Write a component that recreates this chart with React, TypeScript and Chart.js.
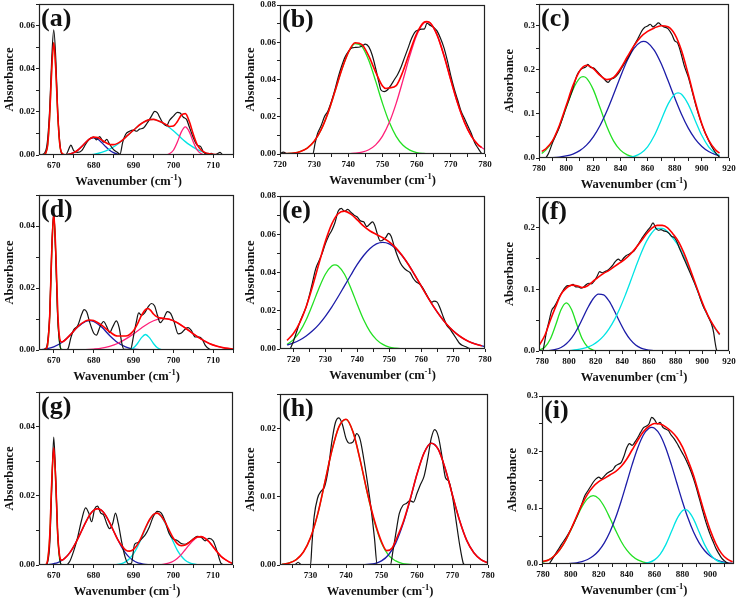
import React, { useEffect, useRef } from "react";
import { Chart, registerables } from "chart.js";
Chart.register(...registerables);

type Pt = [number, number];

// ---------------- panel (a) ----------------
const A_BLACK: Pt[] = [[667,0],[668,0.002],[668.5,0.008],[669,0.022],[669.5,0.045],[670,0.058],[670.5,0.045],[671,0.02],[671.5,0.006],[672,0.0005],[673,0],[673.6,0.002],[674.3,0.0046],[675,0.002],[676,0.0012],[677,0.002],[678,0.005],[679,0.0075],[680,0.0083],[680.7,0.007],[681.5,0.0085],[682.5,0.006],[683.3,0.0072],[684,0.005],[685,0.0025],[686,0.0012],[686.6,0.0003],[687.3,0.006],[688,0.0095],[689,0.011],[690,0.0115],[690.8,0.011],[691.5,0.012],[692.5,0.0125],[693.5,0.015],[694.5,0.018],[695.3,0.0202],[696,0.0195],[696.7,0.017],[697.5,0.0145],[698.3,0.0135],[699,0.016],[700,0.018],[701,0.0198],[701.7,0.0195],[702.5,0.0175],[703.3,0.0165],[704,0.013],[705,0.008],[706,0.0045],[706.8,0.004],[707.5,0.0015],[708.5,0.0004],[709.5,0.0008],[710.2,0],[711,0.0006],[711.7,0.0012],[712.3,0]];
const A_RED: Pt[] = [[666.3,0],[667.5,0.0001],[668,0.001],[668.5,0.005],[669,0.019],[669.5,0.04],[670,0.052],[670.5,0.04],[671,0.019],[671.5,0.0052],[672,0.001],[673,0.0001],[674,0.0004],[675,0.0011],[676,0.0022],[677,0.0039],[678,0.0058],[679,0.0075],[680,0.0083],[681,0.0081],[682,0.007],[683,0.0058],[684,0.0049],[685,0.0048],[686,0.0054],[687,0.0066],[688,0.0082],[690,0.0115],[692,0.0146],[694,0.0164],[695,0.0165],[696,0.016],[698,0.0143],[699,0.0132],[700,0.0134],[701,0.0155],[702,0.0185],[703,0.0192],[704,0.0155],[705,0.0096],[706,0.0047],[707,0.0022],[708,0.0011],[709,0.0006],[710,0.0003],[712,0],[715.2,0]];
const A_GREEN: Pt[] = [[666.3,0],[667.5,0],[668,0.0009],[668.5,0.005],[669,0.0187],[669.5,0.0403],[670,0.052],[670.5,0.0403],[671,0.0187],[671.5,0.005],[672,0.0009],[673,0],[674,0]];
const A_BLUE: Pt[] = [[666.3,0],[672,0],[673,0.0001],[674,0.0004],[675,0.0011],[676,0.0022],[677,0.0039],[678,0.0058],[679,0.0074],[680,0.008],[681,0.0074],[682,0.0058],[683,0.0039],[684,0.0022],[685,0.0011],[686,0.0004],[687,0.0001],[688,0],[715.2,0]];
const A_CYAN: Pt[] = [[678,0],[680,0.0003],[682,0.0012],[684,0.0027],[686,0.005],[688,0.0082],[690,0.0115],[692,0.0146],[694,0.0164],[695,0.0165],[696,0.016],[698,0.014],[700,0.0112],[702,0.0078],[703,0.0062],[704,0.0048],[706,0.0025],[708,0.001],[710,0.0003],[712,0]];
const A_PINK: Pt[] = [[695,0],[698,0.0001],[699,0.0006],[700,0.0022],[701,0.006],[702,0.0107],[703,0.013],[704,0.0107],[705,0.006],[706,0.0022],[707,0.0006],[708,0.0001],[710,0]];

// ---------------- panel (b) ----------------
const B_BLACK: Pt[] = [[720,0.0002],[721,0.001],[722,0.0002],[723,0],[729.6,0],[730.3,0.006],[731,0.011],[732,0.015],[733,0.02],[734,0.023],[735,0.028],[736,0.034],[737,0.041],[738,0.047],[739,0.052],[740,0.055],[741,0.057],[742,0.0572],[743,0.0573],[744,0.058],[745,0.059],[746,0.0575],[747,0.053],[748,0.046],[749,0.038],[749.5,0.0345],[750.5,0.0335],[751.5,0.0345],[752.5,0.037],[753.5,0.04],[754.5,0.043],[755.5,0.047],[756.5,0.052],[757.5,0.057],[758.5,0.062],[759.5,0.0655],[760.5,0.0665],[761.5,0.067],[762.3,0.0672],[763,0.0702],[764,0.069],[765,0.068],[766,0.066],[767,0.062],[768,0.057],[769,0.05],[770,0.042],[771,0.035],[772,0.029],[773,0.023],[774,0.019],[775,0.015],[776,0.011],[777,0.006],[778,0.003],[779,0.0003]];
const B_RED: Pt[] = [[720,0.0001],[722,0.0002],[724,0.0005],[726,0.0014],[728,0.0032],[730,0.0068],[732,0.0129],[734,0.0218],[736,0.0331],[738,0.0449],[740,0.0546],[742,0.0597],[744,0.0587],[746,0.0525],[748,0.044],[750,0.0365],[751,0.0352],[752,0.0355],[754,0.0367],[756,0.0444],[758,0.0549],[760,0.0646],[762,0.0705],[763,0.0711],[764,0.0703],[766,0.0638],[768,0.0528],[770,0.0397],[772,0.0272],[774,0.017],[776,0.0096],[778,0.0049],[779,0.0035]];
const B_GREEN: Pt[] = [[720,0],[722,0.0002],[724,0.0005],[726,0.0014],[728,0.0032],[730,0.0068],[732,0.0129],[734,0.0218],[736,0.0331],[738,0.0449],[740,0.0545],[742,0.0593],[744,0.0577],[746,0.0502],[748,0.0391],[750,0.0272],[752,0.017],[754,0.0095],[756,0.0047],[758,0.0021],[760,0.0008],[762,0.0003],[764,0.0001],[766,0],[780,0]];
const B_PINK: Pt[] = [[738,0],[740,0.0001],[742,0.0004],[744,0.001],[746,0.0023],[748,0.0049],[750,0.0096],[752,0.017],[754,0.0272],[756,0.0397],[758,0.0528],[760,0.0638],[762,0.0702],[763,0.071],[764,0.0702],[766,0.0638],[768,0.0528],[770,0.0397],[772,0.0272],[774,0.017],[776,0.0096],[778,0.0049],[780,0.0023]];
const B_BASE: Pt[] = [[722,0],[762,0]];

// ---------------- panel (c) ----------------
const C_BLACK: Pt[] = [[785,0],[787,0.01],[790,0.035],[795,0.07],[800,0.115],[805,0.158],[808,0.188],[811,0.202],[813,0.205],[814.5,0.207],[816,0.213],[818,0.206],[820,0.205],[823,0.196],[826,0.186],[829,0.176],[831,0.172],[833,0.179],[835,0.181],[838,0.19],[841,0.205],[844,0.22],[847,0.236],[850,0.255],[853,0.272],[856,0.29],[858,0.297],[860,0.3],[862,0.304],[864,0.298],[866,0.302],[868,0.307],[870,0.302],[872,0.298],[875,0.294],[878,0.28],[880,0.266],[882,0.262],[884,0.245],[887,0.21],[890,0.184],[893,0.15],[896,0.115],[899,0.085],[902,0.06],[905,0.04],[908,0.022],[911,0.008],[913,0.002]];
const C_RED: Pt[] = [[782,0.015],[785,0.021],[790,0.0395],[795,0.0738],[800,0.1186],[805,0.1644],[810,0.1982],[812.5,0.2073],[815,0.2107],[820,0.2033],[825,0.1877],[830,0.1782],[835,0.1832],[840,0.2028],[845,0.2295],[850,0.2555],[855,0.2751],[860,0.2877],[865,0.2957],[870,0.3006],[875,0.2985],[880,0.2817],[885,0.2444],[890,0.1897],[895,0.1296],[900,0.0774],[905,0.0404],[910,0.0186],[913,0.0112]];
const C_GREEN: Pt[] = [[782,0.0104],[785,0.0178],[790,0.0385],[795,0.0716],[800,0.114],[805,0.1554],[810,0.1815],[812.5,0.185],[815,0.1815],[820,0.1554],[825,0.114],[830,0.0716],[835,0.0385],[840,0.0178],[845,0.007],[850,0.0024],[855,0.0007],[860,0.0002],[865,0],[913,0]];
const C_BLUE: Pt[] = [[782,0.0002],[785,0.0004],[790,0.001],[795,0.0022],[800,0.0046],[805,0.009],[810,0.0167],[815,0.0292],[820,0.0479],[825,0.0737],[830,0.1066],[835,0.1447],[840,0.1847],[845,0.2214],[850,0.2493],[855,0.2637],[857,0.265],[860,0.262],[865,0.2446],[870,0.2146],[875,0.1767],[880,0.1368],[885,0.0995],[890,0.0679],[895,0.0436],[900,0.0263],[905,0.0149],[910,0.0079],[913,0.0053]];
const C_CYAN: Pt[] = [[782,0],[835,0],[840,0.0003],[845,0.0011],[850,0.0038],[855,0.0107],[860,0.0255],[865,0.0511],[870,0.086],[875,0.1218],[880,0.1449],[882.5,0.148],[885,0.1449],[890,0.1218],[895,0.086],[900,0.0511],[905,0.0255],[910,0.0107],[913,0.0059]];

// ---------------- panel (d) ----------------
const D_BLACK: Pt[] = [[667,0],[668,0.0005],[668.5,0.003],[669,0.012],[669.5,0.033],[670,0.0445],[670.5,0.03],[671,0.01],[671.5,0.002],[672,0],[673,0],[673.6,0.0005],[674.3,0.004],[675,0.0065],[676,0.0078],[677,0.0115],[677.6,0.013],[678.3,0.0122],[679,0.009],[680,0.0055],[680.7,0.0048],[681.6,0.0075],[682.5,0.0092],[683.3,0.0075],[684,0.0056],[684.8,0.0075],[685.7,0.0094],[686.4,0.0072],[687.1,0.002],[687.6,0.0002],[689.3,0.0003],[690,0.0045],[690.7,0.009],[691.3,0.012],[692,0.0112],[692.8,0.012],[693.7,0.014],[694.5,0.015],[695.3,0.0142],[696,0.0112],[696.7,0.0088],[697.5,0.01],[698.5,0.0124],[699.3,0.0118],[700.2,0.009],[701.2,0.0052],[702,0.0055],[703,0.0068],[703.7,0.0072],[704.5,0.0063],[705.5,0.0042],[706.5,0.0042],[707.2,0.0035],[708,0.0015],[709,0.0003],[710,0]];
const D_RED: Pt[] = [[666.3,0],[667.5,0.0001],[668,0.0003],[668.5,0.0022],[669,0.0115],[669.5,0.032],[670,0.044],[670.5,0.032],[671,0.0123],[671.5,0.0037],[672,0.0026],[674,0.0047],[676,0.0075],[678,0.0094],[679,0.0097],[680,0.0095],[682,0.008],[684,0.0059],[686,0.0045],[688,0.0045],[690,0.0062],[691,0.0084],[692,0.0112],[693,0.013],[693.6,0.0134],[694.3,0.0128],[695,0.0116],[696,0.0106],[697.5,0.0102],[699,0.0099],[701,0.0088],[703,0.0071],[705,0.0052],[707,0.0035],[709,0.0021],[711,0.0012],[713,0.0006],[715.2,0.0003]];
const D_GREEN: Pt[] = [[666.3,0],[668,0.0001],[668.5,0.0019],[669,0.0109],[669.5,0.031],[670,0.0435],[670.5,0.031],[671,0.0109],[671.5,0.0019],[672,0.0002],[673,0],[715.2,0]];
const D_BLUE: Pt[] = [[666.3,0],[668,0.0003],[670,0.001],[672,0.0024],[674,0.0047],[676,0.0074],[678,0.0092],[679,0.0095],[680,0.0092],[682,0.0074],[684,0.0047],[686,0.0024],[688,0.001],[690,0.0003],[692,0.0001],[694,0]];
const D_CYAN: Pt[] = [[688,0],[689,0.0001],[690,0.0007],[691,0.0021],[692,0.004],[693,0.005],[694,0.004],[695,0.0021],[696,0.0007],[697,0.0001],[698,0]];
const D_PINK: Pt[] = [[676,0],[678,0.0001],[680,0.0003],[682,0.0006],[684,0.0012],[686,0.0021],[688,0.0035],[690,0.0052],[692,0.0071],[694,0.0088],[696,0.0099],[697.5,0.0102],[699,0.0099],[701,0.0088],[703,0.0071],[705,0.0052],[707,0.0035],[709,0.0021],[711,0.0012],[713,0.0006],[715.2,0.0003]];

// ---------------- panel (e) ----------------
const E_BLACK: Pt[] = [[719,0],[719.5,0.002],[720,0.004],[721,0.009],[722,0.014],[723,0.018],[724,0.022],[725,0.028],[726,0.035],[727,0.042],[728,0.046],[729,0.05],[730,0.055],[731,0.059],[732,0.062],[733,0.066],[734,0.072],[735,0.0735],[736,0.072],[737,0.073],[738,0.0715],[739,0.07],[740,0.069],[741,0.067],[742,0.0665],[743,0.064],[744,0.0655],[744.8,0.0665],[745.5,0.0645],[746.3,0.06],[747.2,0.0565],[748,0.057],[749,0.0585],[749.8,0.0605],[750.6,0.059],[751.5,0.054],[752.5,0.049],[753.5,0.045],[754.5,0.0425],[755.5,0.041],[756.5,0.04],[757.5,0.037],[758.5,0.035],[759.5,0.034],[760.5,0.032],[761.5,0.029],[762.5,0.026],[763.3,0.0245],[764,0.025],[765,0.0245],[766,0.021],[767,0.0165],[768,0.0125],[769,0.0105],[770,0.008],[771,0.0055],[772,0.003],[773,0.0018],[774,0.0012],[775,0.0003],[776,0]];
const E_RED: Pt[] = [[718,0.0045],[720,0.0081],[722,0.0138],[724,0.0221],[726,0.0328],[728,0.0447],[730,0.0562],[732,0.0653],[734,0.0707],[736,0.0721],[738,0.0705],[740,0.0675],[742,0.0642],[744,0.0617],[746,0.0599],[748,0.0582],[750,0.056],[752,0.053],[754,0.049],[756,0.0442],[758,0.0387],[760,0.033],[762,0.0273],[764,0.0219],[766,0.0171],[768,0.0129],[770,0.0095],[772,0.0068],[774,0.0047],[776,0.0032],[778,0.0021],[779,0.0017]];
const E_GREEN: Pt[] = [[718,0.0024],[720,0.0049],[722,0.0091],[724,0.0153],[726,0.0233],[728,0.0318],[730,0.0391],[732,0.0434],[733,0.044],[734,0.0434],[736,0.0391],[738,0.0318],[740,0.0233],[742,0.0153],[744,0.0091],[746,0.0049],[748,0.0024],[750,0.001],[752,0.0004],[754,0.0001],[756,0],[780,0]];
const E_BLUE: Pt[] = [[718,0.0021],[720,0.0032],[722,0.0047],[724,0.0068],[726,0.0095],[728,0.0129],[730,0.0171],[732,0.0219],[734,0.0273],[736,0.033],[738,0.0387],[740,0.0442],[742,0.0489],[744,0.0526],[746,0.055],[748,0.0558],[750,0.055],[752,0.0526],[754,0.0489],[756,0.0442],[758,0.0387],[760,0.033],[762,0.0273],[764,0.0219],[766,0.0171],[768,0.0129],[770,0.0095],[772,0.0068],[774,0.0047],[776,0.0032],[778,0.0021],[780,0.0013]];
const E_BASE: Pt[] = [[718,0],[776,0]];

// ---------------- panel (f) ----------------
const F_BLACK: Pt[] = [[780.5,0],[781.5,0.012],[783,0.03],[785,0.048],[787,0.066],[789,0.072],[791,0.08],[793,0.089],[795,0.096],[797,0.103],[799,0.106],[801,0.106],[803,0.108],[805,0.104],[807,0.104],[809,0.102],[811,0.104],[813,0.108],[815,0.11],[817,0.109],[819,0.114],[821,0.121],[823,0.129],[825,0.127],[827,0.129],[829,0.131],[831,0.135],[833,0.14],[835,0.146],[837,0.149],[839,0.146],[841,0.151],[843,0.155],[845,0.157],[847,0.16],[849,0.163],[851,0.17],[853,0.177],[855,0.184],[857,0.19],[859,0.196],[861,0.201],[863,0.208],[865,0.2],[867,0.196],[869,0.197],[871,0.195],[873,0.194],[875,0.191],[877,0.186],[879,0.184],[881,0.177],[883,0.166],[885,0.156],[887,0.146],[889,0.136],[891,0.126],[893,0.116],[895,0.106],[897,0.095],[899,0.082],[901,0.071],[903,0.063],[905,0.053],[907,0.043],[908.5,0.03],[909.5,0.015],[910.5,0.003],[911,0]];
const F_RED: Pt[] = [[778,0.0104],[782,0.026],[786,0.05],[790,0.072],[794,0.092],[798,0.102],[802,0.107],[806,0.106],[810,0.103],[814,0.106],[818,0.113],[822,0.12],[826,0.126],[830,0.131],[834,0.137],[838,0.143],[842,0.149],[846,0.157],[850,0.167],[854,0.178],[858,0.19],[862,0.199],[866,0.204],[870,0.204],[874,0.2],[878,0.19],[882,0.178],[886,0.16],[890,0.138],[894,0.114],[898,0.09],[902,0.068],[906,0.05],[910,0.036],[913,0.027]];
const F_GREEN: Pt[] = [[778,0.0016],[782,0.0066],[786,0.0194],[790,0.0421],[794,0.0669],[798,0.078],[802,0.0669],[806,0.0421],[810,0.0194],[814,0.0066],[818,0.0016],[822,0.0003],[826,0],[913,0]];
const F_BLUE: Pt[] = [[778,0.0001],[782,0.0004],[786,0.001],[790,0.0026],[794,0.0057],[798,0.0116],[802,0.0212],[806,0.0349],[810,0.0519],[814,0.0697],[818,0.0844],[822,0.0923],[826,0.0911],[830,0.0812],[834,0.0653],[838,0.0474],[842,0.0311],[846,0.0184],[850,0.0098],[854,0.0047],[858,0.0021],[862,0.0008],[866,0.0003],[870,0.0001],[874,0],[913,0]];
const F_CYAN: Pt[] = [[778,0],[786,0.0001],[790,0.0001],[794,0.0003],[798,0.0006],[802,0.0011],[806,0.0021],[810,0.0037],[814,0.0062],[818,0.0102],[822,0.0161],[826,0.0245],[830,0.036],[834,0.0506],[838,0.0686],[842,0.0895],[846,0.1124],[850,0.136],[854,0.1584],[858,0.1776],[862,0.1916],[866,0.199],[870,0.199],[874,0.1935],[878,0.183],[882,0.171],[886,0.154],[890,0.134],[894,0.111],[898,0.088],[902,0.066],[906,0.049],[910,0.035],[913,0.026]];

// ---------------- panel (g) ----------------
const G_BLACK: Pt[] = [[668,0],[668.5,0.001],[669,0.006],[669.5,0.022],[670,0.037],[670.5,0.025],[671,0.009],[671.5,0.002],[672,0],[673,0],[674,0.001],[675,0.004],[676,0.008],[677,0.013],[678,0.0165],[678.8,0.015],[679.5,0.0125],[680.3,0.0163],[681,0.017],[681.8,0.015],[682.5,0.0145],[683.3,0.012],[684,0.0105],[684.8,0.012],[685.5,0.015],[686.2,0.012],[687,0.007],[688,0.002],[688.8,0.0003],[689.5,0.0005],[690.3,0.006],[691.2,0.0065],[692,0.0075],[693,0.0088],[694,0.011],[695,0.014],[696,0.0155],[697,0.015],[698,0.0125],[699,0.009],[700,0.0075],[701,0.0071],[702,0.0062],[703,0.006],[704,0.0066],[705,0.0075],[706,0.0083],[707,0.008],[708,0.007],[709,0.0077],[710,0.007],[711,0.004],[712,0.0005],[713,0]];
const G_RED: Pt[] = [[666.3,0],[667.5,0],[668,0.0001],[668.5,0.0016],[669,0.0085],[669.5,0.024],[670,0.0339],[670.5,0.0243],[671,0.009],[671.5,0.0025],[672,0.0014],[673,0.0022],[674,0.0035],[675,0.0053],[676,0.0075],[677,0.0099],[678,0.0123],[679,0.0144],[680,0.0158],[681,0.0163],[682,0.0158],[683,0.0144],[684,0.0123],[685,0.0099],[686,0.0075],[687,0.0057],[688,0.0044],[689,0.004],[690,0.0045],[691,0.0059],[692,0.0081],[693,0.0107],[694,0.013],[695,0.0146],[696,0.015],[697,0.0141],[698,0.0123],[699,0.01],[700,0.0078],[701,0.0062],[702,0.0056],[703,0.0058],[704,0.0065],[705,0.0074],[706,0.0081],[707,0.0082],[708,0.0077],[709,0.0067],[710,0.0053],[711,0.0038],[712,0.0025],[713,0.0016],[714,0.0009],[715,0.0004]];
const G_GREEN: Pt[] = [[666.3,0],[668,0.0001],[668.5,0.0015],[669,0.0083],[669.5,0.0237],[670,0.0335],[670.5,0.0237],[671,0.0083],[671.5,0.0015],[672,0.0001],[673,0],[715,0]];
const G_BLUE: Pt[] = [[666.3,0],[668,0.0001],[669,0.0002],[670,0.0004],[671,0.0007],[672,0.0013],[673,0.0022],[674,0.0035],[675,0.0053],[676,0.0075],[677,0.0099],[678,0.0123],[679,0.0144],[680,0.0158],[681,0.0163],[682,0.0158],[683,0.0144],[684,0.0123],[685,0.0099],[686,0.0075],[687,0.0053],[688,0.0035],[689,0.0022],[690,0.0013],[691,0.0007],[692,0.0004],[693,0.0002],[694,0.0001],[695,0],[715,0]];
const G_CYAN: Pt[] = [[685,0],[687,0.0004],[688,0.0009],[689,0.0018],[690,0.0032],[691,0.0052],[692,0.0077],[693,0.0105],[694,0.0129],[695,0.0146],[696,0.015],[697,0.014],[698,0.012],[699,0.0094],[700,0.0067],[701,0.0043],[702,0.0026],[703,0.0014],[704,0.0007],[705,0.0003],[706,0.0001],[707,0]];
const G_PINK: Pt[] = [[695,0],[697,0.0001],[698,0.0003],[699,0.0006],[700,0.0011],[701,0.0019],[702,0.003],[703,0.0044],[704,0.0058],[705,0.0071],[706,0.008],[707,0.0082],[708,0.0077],[709,0.0067],[710,0.0053],[711,0.0038],[712,0.0025],[713,0.0016],[714,0.0009],[715,0.0004]];

// ---------------- panel (h) ----------------
const H_BLACK: Pt[] = [[721.4,0],[725.5,0],[726.5,0.0004],[727.5,0],[730,0],[730.4,0.003],[731,0.007],[732,0.0098],[733,0.0108],[734,0.0115],[735,0.014],[736,0.018],[737,0.0208],[738,0.0215],[739,0.0205],[740,0.0185],[741,0.0178],[742,0.018],[743,0.0192],[744,0.0183],[745,0.0155],[746,0.0122],[747,0.0085],[748,0.004],[748.8,0],[752.5,0],[753.2,0.002],[754,0.0045],[755,0.0075],[756,0.0087],[757,0.009],[758,0.0094],[759,0.0092],[760,0.0105],[761,0.0118],[762,0.013],[763,0.0155],[764,0.0185],[765,0.0198],[766,0.0188],[767,0.016],[768,0.0128],[769,0.0122],[770,0.01],[771,0.0065],[772,0.003],[773,0.0003],[773.5,0]];
const H_RED: Pt[] = [[722,0.0001],[724,0.0003],[726,0.0008],[728,0.0019],[730,0.004],[732,0.0074],[734,0.012],[736,0.0167],[738,0.0202],[740,0.0213],[742,0.0194],[744,0.0153],[746,0.0106],[748,0.0065],[750,0.0034],[751.5,0.0021],[753,0.0025],[754,0.0036],[756,0.0061],[758,0.0095],[760,0.0133],[762,0.0164],[764,0.0178],[766,0.0169],[768,0.014],[770,0.0102],[772,0.0065],[774,0.0036],[776,0.0018],[778,0.0008],[780,0.0003]];
const H_GREEN: Pt[] = [[722,0.0001],[724,0.0003],[726,0.0008],[728,0.0019],[730,0.004],[732,0.0074],[734,0.012],[736,0.0167],[738,0.0202],[740,0.0213],[742,0.0194],[744,0.0153],[746,0.0105],[748,0.0063],[750,0.0032],[752,0.0014],[754,0.0006],[756,0.0002],[758,0.0001],[760,0],[780,0]];
const H_BLUE: Pt[] = [[722,0],[744,0],[746,0.0001],[748,0.0002],[750,0.0006],[752,0.0015],[754,0.0032],[756,0.0059],[758,0.0094],[760,0.0133],[762,0.0164],[764,0.0178],[766,0.0169],[768,0.014],[770,0.0102],[772,0.0065],[774,0.0036],[776,0.0018],[778,0.0008],[780,0.0003]];

// ---------------- panel (i) ----------------
const I_BLACK: Pt[] = [[784.5,0],[786,0.006],[788,0.014],[790,0.022],[792,0.03],[794,0.038],[796,0.045],[798,0.053],[800,0.062],[802,0.072],[804,0.083],[806,0.095],[808,0.108],[810,0.122],[812,0.13],[814,0.138],[816,0.146],[818,0.152],[820,0.155],[822,0.152],[824,0.157],[826,0.162],[828,0.165],[830,0.168],[832,0.175],[834,0.178],[836,0.181],[838,0.192],[840,0.207],[842,0.215],[844,0.212],[846,0.218],[848,0.226],[850,0.235],[852,0.243],[854,0.246],[856,0.25],[858,0.262],[860,0.258],[862,0.25],[864,0.253],[866,0.244],[868,0.241],[870,0.238],[872,0.23],[874,0.224],[876,0.216],[878,0.207],[880,0.198],[882,0.189],[884,0.178],[886,0.166],[888,0.152],[890,0.136],[892,0.118],[894,0.1],[896,0.082],[898,0.066],[900,0.052],[902,0.04],[904,0.028],[906,0.019],[908,0.011],[910,0.006],[912,0.002],[914,0]];
const I_RED: Pt[] = [[779.5,0.0045],[784,0.0073],[788,0.0143],[792,0.0253],[796,0.0412],[800,0.0616],[804,0.0844],[808,0.1066],[812,0.1248],[816,0.138],[820,0.147],[824,0.153],[828,0.159],[832,0.165],[836,0.174],[840,0.187],[844,0.204],[848,0.221],[852,0.236],[856,0.246],[860,0.251],[864,0.25],[868,0.245],[872,0.237],[876,0.226],[880,0.209],[884,0.185],[888,0.158],[892,0.124],[896,0.09],[900,0.06],[904,0.036],[908,0.019],[912,0.009],[916,0.004]];
const I_GREEN: Pt[] = [[779.5,0.003],[784,0.0073],[788,0.0142],[792,0.0251],[796,0.0407],[800,0.0605],[804,0.0822],[808,0.1023],[812,0.1168],[816,0.122],[820,0.1168],[824,0.1023],[828,0.0822],[832,0.0605],[836,0.0407],[840,0.0251],[844,0.0142],[848,0.0073],[852,0.0035],[856,0.0015],[860,0.0006],[864,0.0002],[868,0.0001],[872,0],[917,0]];
const I_BLUE: Pt[] = [[779.5,0],[788,0.0001],[792,0.0002],[796,0.0005],[800,0.0011],[804,0.0022],[808,0.0043],[812,0.008],[816,0.0141],[820,0.0237],[824,0.0377],[828,0.057],[832,0.082],[836,0.1117],[840,0.1446],[844,0.1779],[848,0.2077],[852,0.2304],[856,0.2424],[858,0.244],[860,0.2424],[864,0.2304],[868,0.2077],[872,0.1779],[876,0.1446],[880,0.1117],[884,0.082],[888,0.057],[892,0.0377],[896,0.0237],[900,0.0141],[904,0.008],[908,0.0043],[912,0.0022],[916,0.0011]];
const I_CYAN: Pt[] = [[779.5,0],[844,0],[848,0.0002],[852,0.0008],[856,0.0027],[860,0.0074],[864,0.0173],[868,0.0342],[872,0.057],[876,0.0801],[880,0.095],[882,0.097],[884,0.095],[888,0.0801],[892,0.057],[896,0.0342],[900,0.0173],[904,0.0074],[908,0.0027],[912,0.0008],[916,0.0002]];

// ---------------- tick labels ----------------
const X_670 = [670, 680, 690, 700, 710];
const X_720 = [720, 730, 740, 750, 760, 770, 780];
const X_730 = [730, 740, 750, 760, 770, 780];
const X_780 = [780, 800, 820, 840, 860, 880, 900, 920];
const X_780I = [780, 800, 820, 840, 860, 880, 900];
const Y_A = [0, 0.02, 0.04, 0.06];
const Y_B = [0, 0.02, 0.04, 0.06, 0.08];
const Y_C = [0, 0.1, 0.2, 0.3];
const Y_D = [0, 0.02, 0.04];
const Y_F = [0, 0.1, 0.2];
const Y_H = [0, 0.01, 0.02];

const FONT = '"Liberation Serif", "Times New Roman", serif';
const COL = { black: "#141414", red: "#ff0000", green: "#22e022", blue: "#1c1ca8", cyan: "#00e4e4", pink: "#ff1f78" };

const PAD_L = 40, PAD_T = 8, PAD_R = 12, PAD_B = 36;

interface Panel {
  label: string;
  box: [number, number, number, number];
  xMin: number; xMax: number; xTicks: number[];
  yMax: number; yTicks: number[]; yDec: number;
  tdx: number;
  black: Pt[]; red: Pt[]; green?: Pt[]; blue?: Pt[]; cyan?: Pt[]; pink?: Pt[]; base?: Pt[];
}

const PANELS: Panel[] = [
  { label: "(a)", box: [39, 4, 234, 155], xMin: 666.3, xMax: 715.2, xTicks: X_670, yMax: 0.07, yTicks: Y_A, yDec: 2, tdx: -8,
    black: A_BLACK, red: A_RED, green: A_GREEN, blue: A_BLUE, cyan: A_CYAN, pink: A_PINK },
  { label: "(b)", box: [280, 5, 485, 154], xMin: 720, xMax: 780, xTicks: X_720, yMax: 0.08, yTicks: Y_B, yDec: 2, tdx: 0,
    black: B_BLACK, red: B_RED, green: B_GREEN, pink: B_PINK, base: B_BASE },
  { label: "(c)", box: [539, 4, 729, 158], xMin: 780, xMax: 920, xTicks: X_780, yMax: 0.35, yTicks: Y_C, yDec: 1, tdx: 0,
    black: C_BLACK, red: C_RED, green: C_GREEN, blue: C_BLUE, cyan: C_CYAN },
  { label: "(d)", box: [39, 195, 234, 350], xMin: 666.3, xMax: 715.2, xTicks: X_670, yMax: 0.05, yTicks: Y_D, yDec: 2, tdx: -10,
    black: D_BLACK, red: D_RED, green: D_GREEN, blue: D_BLUE, cyan: D_CYAN, pink: D_PINK },
  { label: "(e)", box: [280, 196, 485, 349], xMin: 715.8, xMax: 780, xTicks: X_720, yMax: 0.08, yTicks: Y_B, yDec: 2, tdx: 0,
    black: E_BLACK, red: E_RED, green: E_GREEN, blue: E_BLUE, base: E_BASE },
  { label: "(f)", box: [539, 197, 729, 351], xMin: 777.5, xMax: 920, xTicks: X_780, yMax: 0.25, yTicks: Y_F, yDec: 1, tdx: 0,
    black: F_BLACK, red: F_RED, green: F_GREEN, blue: F_BLUE, cyan: F_CYAN },
  { label: "(g)", box: [39, 392, 233, 565], xMin: 666.3, xMax: 715, xTicks: X_670, yMax: 0.05, yTicks: Y_D, yDec: 2, tdx: -9,
    black: G_BLACK, red: G_RED, green: G_GREEN, blue: G_BLUE, cyan: G_CYAN, pink: G_PINK },
  { label: "(h)", box: [280, 394, 488, 565], xMin: 721.4, xMax: 780, xTicks: X_730, yMax: 0.025, yTicks: Y_H, yDec: 2, tdx: -4,
    black: H_BLACK, red: H_RED, green: H_GREEN, blue: H_BLUE },
  { label: "(i)", box: [542, 396, 734, 564], xMin: 779.3, xMax: 917, xTicks: X_780I, yMax: 0.3, yTicks: Y_C, yDec: 1, tdx: -4,
    black: I_BLACK, red: I_RED, green: I_GREEN, blue: I_BLUE, cyan: I_CYAN },
];

function withMinor(major: number[], min: number, max: number): number[] {
  const step = major[1] - major[0];
  const out: number[] = [];
  for (let k = -2; k <= 2 * major.length + 2; k++) {
    const v = Math.round((major[0] + (k * step) / 2) * 1e6) / 1e6;
    if (v >= min - 1e-9 && v <= max + 1e-9) out.push(v);
  }
  return out;
}
const isMajor = (v: number, major: number[]) => major.some((t) => Math.abs(t - v) < 1e-7);

const framePlugin = {
  id: "frame",
  afterDatasetsDraw(chart: any, _args: any, opts: any) {
    const { ctx, chartArea } = chart;
    const { left, top, right, bottom } = chartArea;
    ctx.save();
    ctx.strokeStyle = "#222";
    ctx.lineWidth = 1.2;
    ctx.strokeRect(left + 0.5, top + 0.5, right - left - 1, bottom - top - 1);
    ctx.fillStyle = "#111";
    ctx.font = `bold 26px ${FONT}`;
    ctx.textAlign = "left";
    ctx.textBaseline = "alphabetic";
    ctx.fillText(opts.label, left + 2, top + 22);
    const mainF = `bold 12.5px ${FONT}`;
    const supF = `bold 8.5px ${FONT}`;
    const t1 = "Wavenumber (cm", t2 = "-1", t3 = ")";
    ctx.font = mainF; const w1 = ctx.measureText(t1).width; const w3 = ctx.measureText(t3).width;
    ctx.font = supF; const w2 = ctx.measureText(t2).width;
    const total = w1 + w2 + w3;
    const x0 = (left + right) / 2 + opts.tdx - total / 2;
    const yb = bottom + 30;
    ctx.font = mainF; ctx.fillText(t1, x0, yb);
    ctx.font = supF; ctx.fillText(t2, x0 + w1, yb - 5);
    ctx.font = mainF; ctx.fillText(t3, x0 + w1 + w2, yb);
    ctx.translate(left - 29, (top + bottom) / 2);
    ctx.rotate(-Math.PI / 2);
    ctx.textAlign = "center";
    ctx.textBaseline = "middle";
    ctx.font = mainF;
    ctx.fillText("Absorbance", 0, 0);
    ctx.restore();
  },
};

function PanelChart({ p }: { p: Panel }) {
  const ref = useRef<HTMLCanvasElement | null>(null);
  const [l, t, r, b] = p.box;
  const W = r - l + PAD_L + PAD_R;
  const H = b - t + PAD_T + PAD_B;
  useEffect(() => {
    if (!ref.current) return;
    const ds: any[] = [];
    const add = (pts: Pt[] | undefined, color: string, width: number) => {
      if (!pts) return;
      ds.push({
        data: pts.map(([x, y]) => ({ x, y })),
        borderColor: color,
        borderWidth: width,
        pointRadius: 0,
        fill: false,
        cubicInterpolationMode: "monotone",
      });
    };
    add(p.red, COL.red, 1.6);
    add(p.black, COL.black, 1.2);
    add(p.pink, COL.pink, 1.3);
    add(p.cyan, COL.cyan, 1.3);
    add(p.blue, COL.blue, 1.3);
    add(p.green, COL.green, 1.3);
    add(p.base, COL.blue, 1.2);
    const xAll = withMinor(p.xTicks, p.xMin, p.xMax);
    const yAll = withMinor(p.yTicks, 0, p.yMax);
    const tickFont = { family: FONT, size: 9, weight: "bold" as const };
    const chart = new Chart(ref.current, {
      type: "line",
      data: { datasets: ds },
      plugins: [framePlugin as any],
      options: {
        responsive: false,
        animation: false,
        events: [],
        layout: { padding: { left: 0, top: PAD_T, right: PAD_R, bottom: 0 } },
        plugins: { legend: { display: false }, tooltip: { enabled: false }, frame: { label: p.label, tdx: p.tdx } } as any,
        scales: {
          x: {
            type: "linear",
            min: p.xMin,
            max: p.xMax,
            afterBuildTicks: (s: any) => { s.ticks = xAll.map((v) => ({ value: v })); },
            afterFit: (s: any) => { s.height = PAD_B; s.paddingLeft = 0; s.paddingRight = 0; },
            ticks: {
              autoSkip: false, maxRotation: 0, padding: 2, color: "#111", font: tickFont,
              callback: (v: any) => (isMajor(Number(v), p.xTicks) ? String(Math.round(Number(v))) : ""),
            },
            grid: { display: true, drawOnChartArea: false, drawTicks: true, tickLength: 3, color: "#222", lineWidth: 1 },
            border: { display: false },
          },
          y: {
            type: "linear",
            min: 0,
            max: p.yMax,
            afterBuildTicks: (s: any) => { s.ticks = yAll.map((v) => ({ value: v })); },
            afterFit: (s: any) => { s.width = PAD_L; s.paddingTop = 0; s.paddingBottom = 0; },
            ticks: {
              autoSkip: false, padding: 1, color: "#111", font: tickFont,
              callback: (v: any) => (isMajor(Number(v), p.yTicks) ? Number(v).toFixed(p.yDec) : ""),
            },
            grid: { display: true, drawOnChartArea: false, drawTicks: true, tickLength: 3, color: "#222", lineWidth: 1 },
            border: { display: false },
          },
        },
      } as any,
    });
    return () => chart.destroy();
  }, []);
  return (
    <canvas
      ref={ref}
      width={W}
      height={H}
      style={{ position: "absolute", left: l - PAD_L, top: t - PAD_T, width: W, height: H }}
    />
  );
}

export default function App() {
  return (
    <div style={{ position: "absolute", left: 0, top: 0, width: 740, height: 602, background: "#fff", overflow: "hidden" }}>
      {PANELS.map((p) => (
        <PanelChart key={p.label} p={p} />
      ))}
    </div>
  );
}
